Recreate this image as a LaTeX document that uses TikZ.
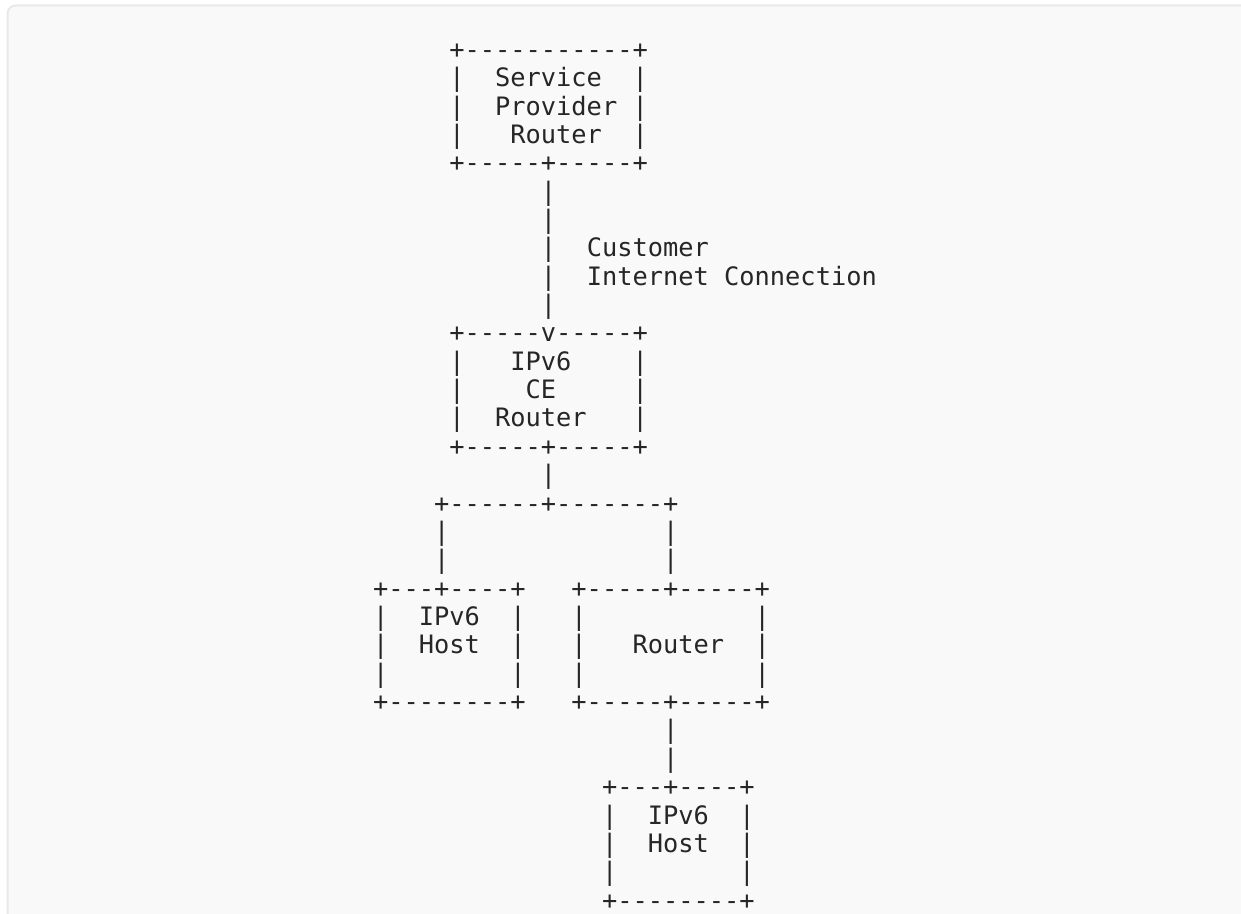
\documentclass[tikz,border=0pt]{standalone}
\usepackage{fontspec}
\setmonofont{DejaVu Sans Mono}
\definecolor{pagebg}{HTML}{F9F9F9}
\definecolor{pageline}{HTML}{E9E9E9}
\definecolor{ink}{HTML}{262626}
\begin{document}
\begin{tikzpicture}[x=0.75pt,y=-0.75pt,
  asc/.style={anchor=base west,inner sep=0pt,outer sep=0pt,text=ink,
    font=\ttfamily\fontsize{19.02pt}{22pt}\selectfont}]
\useasboundingbox (0,0) rectangle (1241,913);
\fill[white] (0,0) rectangle (1241,913);
\begin{scope}
\clip (0,0) rectangle (1241,913);
\draw[pageline,fill=pagebg,line width=1.5pt,rounded corners=6pt] (7.5,5.5) rectangle (1270,940);
\end{scope}
\def\cx{373.0}
\def\by#1{58.3+(#1-1)*28.36}
\node[asc] (l1)  at (\cx,{\by{1}})  {~~~~~+-----------+};
\node[asc] (l2)  at (\cx,{\by{2}})  {~~~~~|~~Service~~|};
\node[asc] (l3)  at (\cx,{\by{3}})  {~~~~~|~~Provider~|};
\node[asc] (l4)  at (\cx,{\by{4}})  {~~~~~|~~~Router~~|};
\node[asc] (l5)  at (\cx,{\by{5}})  {~~~~~+-----+-----+};
\node[asc] (l6)  at (\cx,{\by{6}})  {~~~~~~~~~~~|};
\node[asc] (l7)  at (\cx,{\by{7}})  {~~~~~~~~~~~|};
\node[asc] (l8)  at (\cx,{\by{8}})  {~~~~~~~~~~~|~~Customer};
\node[asc] (l9)  at (\cx,{\by{9}})  {~~~~~~~~~~~|~~Internet~Connection};
\node[asc] (l10) at (\cx,{\by{10}}) {~~~~~~~~~~~|};
\node[asc] (l11) at (\cx,{\by{11}}) {~~~~~+-----v-----+};
\node[asc] (l12) at (\cx,{\by{12}}) {~~~~~|~~~IPv6~~~~|};
\node[asc] (l13) at (\cx,{\by{13}}) {~~~~~|~~~~CE~~~~~|};
\node[asc] (l14) at (\cx,{\by{14}}) {~~~~~|~~Router~~~|};
\node[asc] (l15) at (\cx,{\by{15}}) {~~~~~+-----+-----+};
\node[asc] (l16) at (\cx,{\by{16}}) {~~~~~~~~~~~|};
\node[asc] (l17) at (\cx,{\by{17}}) {~~~~+------+-------+};
\node[asc] (l18) at (\cx,{\by{18}}) {~~~~|~~~~~~~~~~~~~~|};
\node[asc] (l19) at (\cx,{\by{19}}) {~~~~|~~~~~~~~~~~~~~|};
\node[asc] (l20) at (\cx,{\by{20}}) {+---+----+~~~+-----+-----+};
\node[asc] (l21) at (\cx,{\by{21}}) {|~~IPv6~~|~~~|~~~~~~~~~~~|};
\node[asc] (l22) at (\cx,{\by{22}}) {|~~Host~~|~~~|~~~Router~~|};
\node[asc] (l23) at (\cx,{\by{23}}) {|~~~~~~~~|~~~|~~~~~~~~~~~|};
\node[asc] (l24) at (\cx,{\by{24}}) {+--------+~~~+-----+-----+};
\node[asc] (l25) at (\cx,{\by{25}}) {~~~~~~~~~~~~~~~~~~~|};
\node[asc] (l26) at (\cx,{\by{26}}) {~~~~~~~~~~~~~~~~~~~|};
\node[asc] (l27) at (\cx,{\by{27}}) {~~~~~~~~~~~~~~~+---+----+};
\node[asc] (l28) at (\cx,{\by{28}}) {~~~~~~~~~~~~~~~|~~IPv6~~|};
\node[asc] (l29) at (\cx,{\by{29}}) {~~~~~~~~~~~~~~~|~~Host~~|};
\node[asc] (l30) at (\cx,{\by{30}}) {~~~~~~~~~~~~~~~|~~~~~~~~|};
\node[asc] (l31) at (\cx,{\by{31}}) {~~~~~~~~~~~~~~~+--------+};
\end{tikzpicture}
\end{document}
